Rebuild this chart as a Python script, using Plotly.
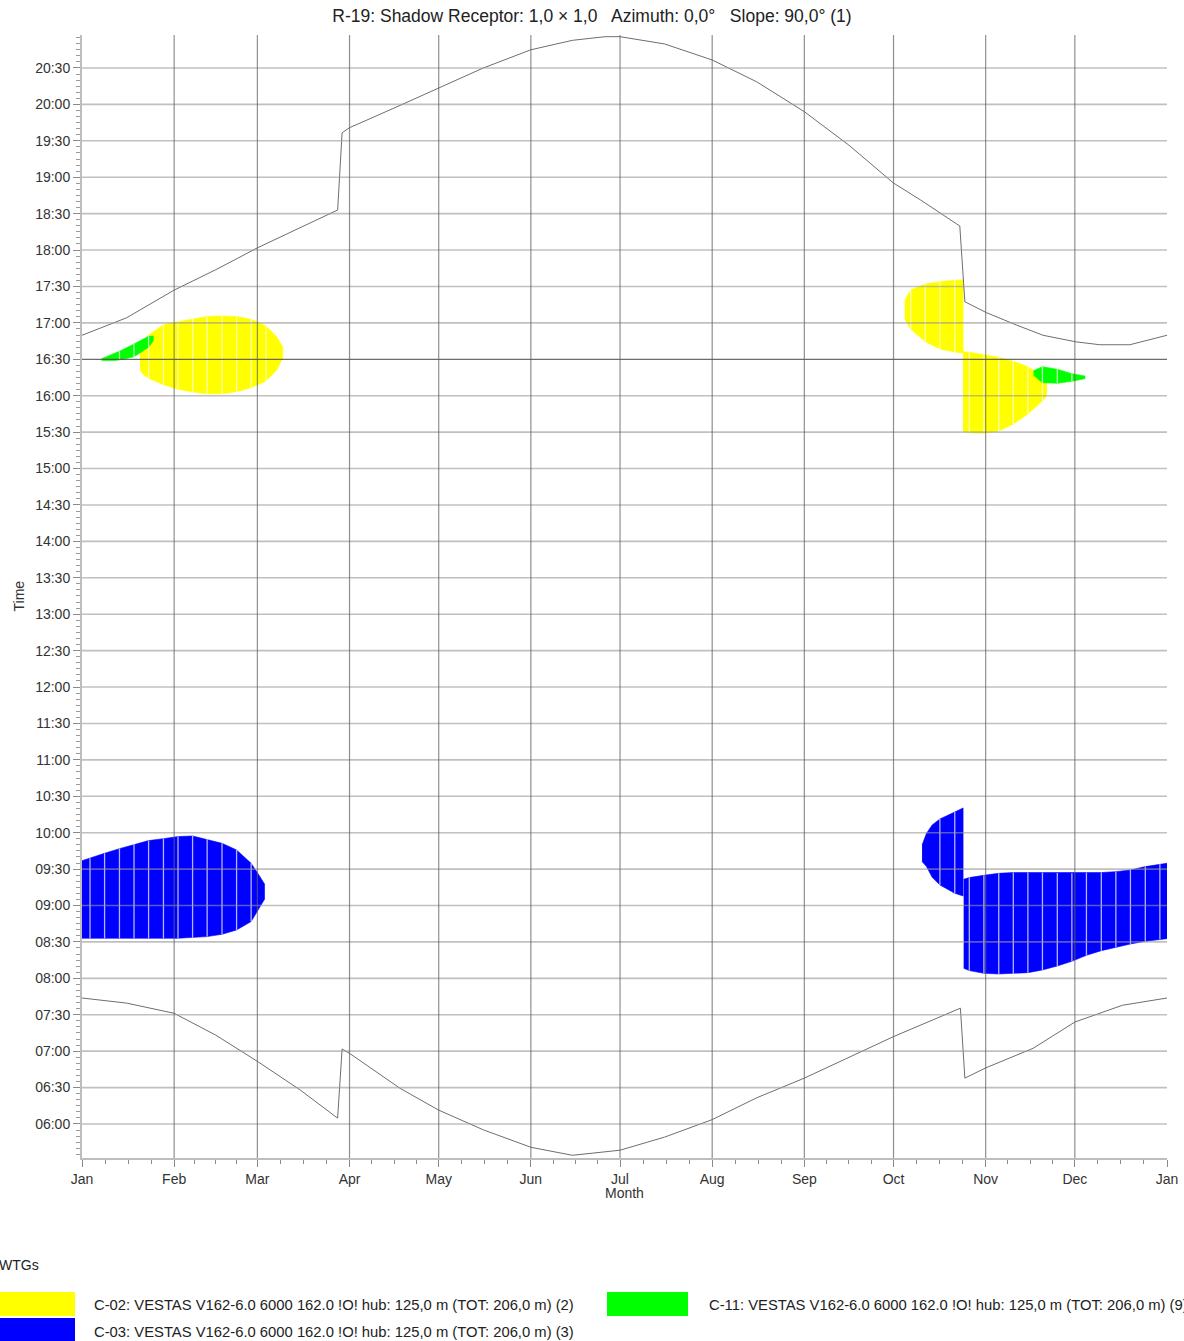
import plotly.graph_objects as go

# ---------------- data ----------------
title_text = "R-19: Shadow Receptor: 1,0 × 1,0\u00a0\u00a0 Azimuth: 0,0°\u00a0\u00a0 Slope: 90,0° (1)"
month_labels = ["Jan", "Feb", "Mar", "Apr", "May", "Jun", "Jul", "Aug", "Sep", "Oct", "Nov", "Dec", "Jan"]
month_start_days = [0, 31, 59, 90, 120, 151, 181, 212, 243, 273, 304, 334, 365]
time_tick_values = [6.0, 6.5, 7.0, 7.5, 8.0, 8.5, 9.0, 9.5, 10.0, 10.5, 11.0, 11.5, 12.0, 12.5, 13.0,
                    13.5, 14.0, 14.5, 15.0, 15.5, 16.0, 16.5, 17.0, 17.5, 18.0, 18.5, 19.0, 19.5, 20.0, 20.5]
time_tick_labels = ["06:00", "06:30", "07:00", "07:30", "08:00", "08:30", "09:00", "09:30", "10:00", "10:30",
                    "11:00", "11:30", "12:00", "12:30", "13:00", "13:30", "14:00", "14:30", "15:00", "15:30",
                    "16:00", "16:30", "17:00", "17:30", "18:00", "18:30", "19:00", "19:30", "20:00", "20:30"]

# sunset (upper curve)
sunset_day = [0, 15, 31, 45, 59, 73, 86, 87.5, 90, 105, 120, 135, 151, 165, 176, 181, 196, 212, 227, 243,
              258, 273, 282, 288.6, 295.3, 297, 304.3, 314.4, 323.3, 334.3, 342.4, 352.5, 365]
sunset_time = [16.83, 17.07, 17.45, 17.73, 18.03, 18.30, 18.55, 19.61, 19.68, 19.95, 20.22, 20.50, 20.75,
               20.88, 20.93, 20.93, 20.83, 20.61, 20.31, 19.90, 19.44, 18.92, 18.69, 18.51, 18.33, 17.29,
               17.14, 16.97, 16.83, 16.74, 16.70, 16.70, 16.83]

# sunrise (lower curve)
sunrise_day = [0, 15, 31, 45, 59, 66.6, 73.3, 86, 87.5, 90, 107, 120, 135, 151, 165, 181, 196, 212, 227,
               243, 258, 273, 295.5, 297, 304, 320, 334, 350, 365]
sunrise_time = [7.73, 7.66, 7.52, 7.22, 6.86, 6.65, 6.47, 6.08, 7.03, 6.97, 6.49, 6.19, 5.92, 5.68, 5.57,
                5.64, 5.82, 6.06, 6.36, 6.63, 6.92, 7.20, 7.59, 6.63, 6.77, 7.04, 7.40, 7.63, 7.73]

# shadow periods: day of year, shadow start time, shadow end time (decimal hours)
c02_name = "C-02: VESTAS V162-6.0 6000 162.0 !O! hub: 125,0 m (TOT: 206,0 m) (2)"
c02_jan_day = [19.5, 20.5, 22.4, 27.4, 32.3, 37.2, 42.1, 47.1, 52.0, 56.9, 61.9, 65.5, 67.5]
c02_jan_start = [16.353, 16.298, 16.239, 16.152, 16.088, 16.051, 16.028, 16.028, 16.056, 16.111, 16.202, 16.353, 16.514]
c02_jan_end = [16.559, 16.697, 16.834, 16.976, 17.017, 17.054, 17.086, 17.095, 17.086, 17.049, 16.958, 16.811, 16.674]
c02_oct_day = [276.8, 278.8, 283.7, 288.6, 293.6, 296.4]
c02_oct_start = [17.049, 16.912, 16.742, 16.642, 16.601, 16.587]
c02_oct_end = [17.314, 17.452, 17.534, 17.566, 17.585, 17.589]
c02_nov_day = [296.4, 298.5, 303.4, 308.4, 313.3, 318.2, 323.1, 324.5]
c02_nov_start = [15.507, 15.493, 15.484, 15.516, 15.612, 15.749, 15.932, 15.996]
c02_nov_end = [16.605, 16.596, 16.564, 16.527, 16.472, 16.399, 16.271, 16.193]

c03_name = "C-03: VESTAS V162-6.0 6000 162.0 !O! hub: 125,0 m (TOT: 206,0 m) (3)"
c03_jan_day = [0, 2.7, 7.6, 12.6, 17.5, 22.4, 27.4, 32.3, 37.2, 42.1, 47.1, 52.0, 56.9, 59.5, 61.4]
c03_jan_start = [8.550, 8.550, 8.550, 8.550, 8.550, 8.550, 8.550, 8.550, 8.559, 8.573, 8.605, 8.664, 8.779, 8.948, 9.085]
c03_jan_end = [9.616, 9.648, 9.717, 9.781, 9.840, 9.891, 9.918, 9.946, 9.955, 9.909, 9.854, 9.763, 9.580, 9.419, 9.296]
c03_oct_day = [282.6, 284.1, 286.0, 288.6, 293.6, 296.4]
c03_oct_start = [9.603, 9.534, 9.387, 9.282, 9.168, 9.131]
c03_oct_end = [9.831, 9.992, 10.106, 10.188, 10.284, 10.339]
c03_nov_day = [296.6, 298.5, 303.4, 308.4, 313.3, 318.2, 323.1, 328.1, 333.0, 337.9, 342.9, 347.8, 352.7,
               357.7, 362.6, 365]
c03_nov_start = [8.138, 8.106, 8.069, 8.060, 8.065, 8.078, 8.115, 8.170, 8.234, 8.316, 8.380, 8.426, 8.472,
                 8.509, 8.536, 8.545]
c03_nov_end = [9.360, 9.383, 9.415, 9.442, 9.452, 9.452, 9.452, 9.447, 9.442, 9.452, 9.452, 9.465, 9.488,
               9.534, 9.566, 9.580]

c11_name = "C-11: VESTAS V162-6.0 6000 162.0 !O! hub: 125,0 m (TOT: 206,0 m) (9)"
c11_jan_day = [6.6, 10.5, 12.6, 17.5, 22.4, 24.0]
c11_jan_start = [16.482, 16.482, 16.491, 16.536, 16.665, 16.756]
c11_jan_end = [16.509, 16.578, 16.610, 16.710, 16.816, 16.820]
c11_nov_day = [320.1, 323.1, 328.1, 333.0, 337.4]
c11_nov_start = [16.280, 16.179, 16.170, 16.198, 16.234]
c11_nov_end = [16.344, 16.399, 16.363, 16.303, 16.271]

# ---------------- figure ----------------
W, H = 1184, 1341
ML, MR, MT, MB = 82, 17, 35, 183
FONT = "Liberation Sans, Arial, sans-serif"
X_RANGE = [0, 365]
Y_RANGE = [5.533, 20.953]
STRIPE_START, STRIPE_STEP = 2.7, 4.93   # rendering stripes of the original chart

fig = go.Figure()


def is_stripe(d):
    k = round((d - STRIPE_START) / STRIPE_STEP)
    return abs(STRIPE_START + k * STRIPE_STEP - d) < 0.07


def add_turbine(segments, color, name):
    sx, sy = [], []
    for days, start, end in segments:
        fig.add_trace(go.Scatter(
            x=list(days) + list(days[::-1]), y=list(end) + list(start[::-1]),
            mode="lines", fill="toself", fillcolor=color,
            line=dict(color=color, width=0.6), name=name, showlegend=False, hoverinfo="skip"))
        for d, s, e in zip(days, start, end):
            if is_stripe(d):
                sx += [d, d, None]
                sy += [s, e, None]
    # thin light stripes as in the original rendering
    fig.add_trace(go.Scatter(x=sx, y=sy, mode="lines", showlegend=False, hoverinfo="skip",
                             line=dict(color="rgba(255,255,255,0.7)", width=1.3)))


add_turbine([(c02_jan_day, c02_jan_start, c02_jan_end),
             (c02_oct_day, c02_oct_start, c02_oct_end),
             (c02_nov_day, c02_nov_start, c02_nov_end)], "#FFFF00", c02_name)
add_turbine([(c03_jan_day, c03_jan_start, c03_jan_end),
             (c03_oct_day, c03_oct_start, c03_oct_end),
             (c03_nov_day, c03_nov_start, c03_nov_end)], "#0000FF", c03_name)
add_turbine([(c11_jan_day, c11_jan_start, c11_jan_end),
             (c11_nov_day, c11_nov_start, c11_nov_end)], "#00FF00", c11_name)

for d, t in ((sunset_day, sunset_time), (sunrise_day, sunrise_time)):
    fig.add_trace(go.Scatter(x=d, y=t, mode="lines", showlegend=False,
                             line=dict(color="#6e6e6e", width=1), hoverinfo="skip"))

# grid lines drawn above the shadow areas (semi-transparent)
shapes = []
for t in time_tick_values:
    dark = abs(t - 16.5) < 1e-6
    shapes.append(dict(type="line", xref="x", yref="y", x0=X_RANGE[0], x1=X_RANGE[1], y0=t, y1=t,
                       layer="above",
                       line=dict(color="rgba(70,70,70,0.8)" if dark else "rgba(150,150,150,0.6)",
                                 width=1.2 if dark else 1.6)))
for d in month_start_days[1:-1]:
    shapes.append(dict(type="line", xref="x", yref="y", x0=d, x1=d, y0=Y_RANGE[0], y1=Y_RANGE[1],
                       layer="above", line=dict(color="rgba(95,95,95,0.7)", width=1.2)))

# legend (drawn manually, as in the reference)
pw, ph = W - ML - MR, H - MT - MB


def px(x):
    return (x - ML) / pw


def py(y):
    return (H - MB - y) / ph


annotations = []
legend_items = [
    (c02_name, "#FFFF00", 0, 1292, 75, 1316, 92, 1305),
    (c11_name, "#00FF00", 607, 1292, 688, 1316, 707, 1305),
    (c03_name, "#0000FF", 0, 1318, 75, 1343, 92, 1332),
]
for name, col, x0, y0, x1, y1, tx, ty in legend_items:
    shapes.append(dict(type="rect", xref="paper", yref="paper", x0=px(x0), x1=px(x1), y0=py(y1), y1=py(y0),
                       fillcolor=col, line=dict(width=0), layer="above"))
    annotations.append(dict(xref="paper", yref="paper", x=px(tx), y=py(ty), xanchor="left", yanchor="middle",
                            text=name, showarrow=False, font=dict(family=FONT, size=14.8, color="#222")))
annotations.append(dict(xref="paper", yref="paper", x=px(-3), y=py(1265), xanchor="left", yanchor="middle",
                        text="WTGs", showarrow=False, font=dict(family=FONT, size=14, color="#222")))
annotations.append(dict(xref="paper", yref="paper", x=px(18), y=0.5, xanchor="center", yanchor="middle",
                        text="Time", textangle=-90, showarrow=False, font=dict(family=FONT, size=14, color="#333")))
annotations.append(dict(xref="paper", yref="paper", x=px(624), y=py(1193), xanchor="center", yanchor="middle",
                        text="Month", showarrow=False, font=dict(family=FONT, size=14, color="#333")))

minor_x = []
for a, b in zip(month_start_days[:-1], month_start_days[1:]):
    minor_x += [a + (b - a) * k / 4 for k in (1, 2, 3)]

fig.update_layout(
    width=W, height=H,
    margin=dict(l=ML, r=MR, t=MT, b=MB, autoexpand=False),
    paper_bgcolor="white", plot_bgcolor="white",
    showlegend=False,
    title=dict(text=title_text, x=0.5, xref="container", xanchor="center",
               y=1 - 16 / H, yref="container", yanchor="middle",
               font=dict(family=FONT, size=17.5, color="#222")),
    font=dict(family=FONT, color="#333"),
    shapes=shapes, annotations=annotations,
    xaxis=dict(range=X_RANGE, tickmode="array", tickvals=month_start_days, ticktext=month_labels,
               showgrid=False, zeroline=False, showline=True, linecolor="#bdbdbd", linewidth=2,
               ticks="outside", ticklen=7, tickcolor="#8a8a8a", tickwidth=1,
               tickfont=dict(family=FONT, size=14, color="#333"),
               minor=dict(tickmode="array", tickvals=minor_x, ticks="outside", ticklen=4,
                          tickcolor="#8a8a8a", showgrid=False)),
    yaxis=dict(range=Y_RANGE, tickmode="array", tickvals=time_tick_values, ticktext=time_tick_labels,
               showgrid=False, zeroline=False, showline=True, linecolor="#bdbdbd", linewidth=2,
               ticks="outside", ticklen=7, tickcolor="#8a8a8a", tickwidth=1,
               tickfont=dict(family=FONT, size=14, color="#333"),
               minor=dict(dtick=1 / 12, tick0=6.0, ticks="outside", ticklen=4,
                          tickcolor="#9a9a9a", showgrid=False)),
)

fig.write_html("out.html", config={"displayModeBar": False},
               post_script="document.body.style.margin='0';document.body.style.overflow='hidden';")
